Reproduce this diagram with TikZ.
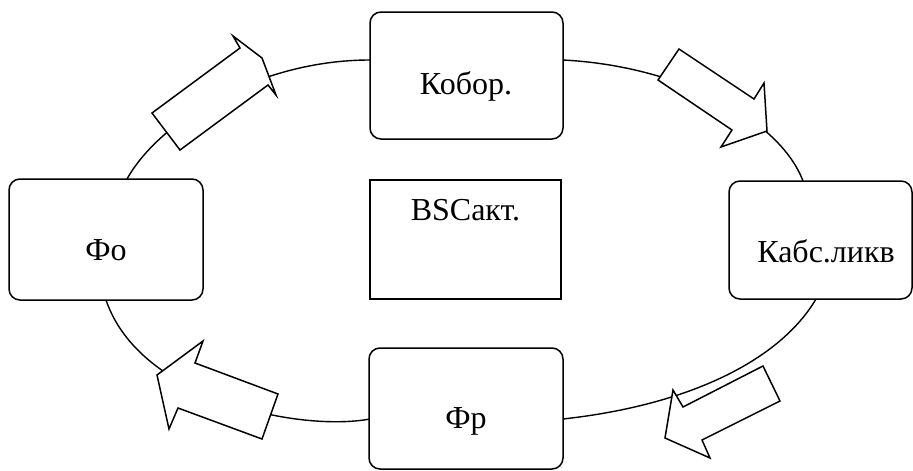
\documentclass[tikz,border=0pt]{standalone}
\usepackage{fontspec}
\setmainfont{Liberation Serif}
\begin{document}
\begin{tikzpicture}[x=1pt,y=-1pt,
  box/.style={draw, line width=1.5pt, rounded corners=11pt, fill=white, inner sep=0pt},
  sqbox/.style={draw, line width=1.5pt, fill=white, inner sep=0pt},
  lbl/.style={anchor=base, inner sep=0pt, font=\fontsize{32}{38}\selectfont},
  ring/.style={line width=1.4pt},
  blockarrow/.style={draw, line width=1.5pt, fill=white, line join=miter}]
\useasboundingbox (0,0) rectangle (913,471);

% ring ends (on the box borders)
\coordinate (koborW) at (370,60);
\coordinate (koborE) at (563,60);
\coordinate (foN) at (127,179);
\coordinate (foS) at (106,300);
\coordinate (kabsN) at (803,181);
\coordinate (kabsS) at (816,299);
\coordinate (frW) at (370,419);
\coordinate (frE) at (563,419);

% ring segments between the boxes
\draw[ring] (koborW) .. controls (260,60) and (160,120) .. (foN);
\draw[ring] (koborE) .. controls (680,66) and (780,120) .. (kabsN);
\draw[ring] (kabsS) .. controls (780,360) and (690,405) .. (frE);
\draw[ring] (frW) .. controls (300,432) and (140,400) .. (foS);

% boxes (named)
\node[box, minimum width=193pt, minimum height=127pt] (kobor) at (466.5,75.5) {};
\node[sqbox, minimum width=191pt, minimum height=119pt] (bsc) at (465.5,239.5) {};
\node[box, minimum width=194pt, minimum height=121pt] (fo) at (106,239.5) {};
\node[box, minimum width=183pt, minimum height=118pt] (kabs) at (820.5,240) {};
\node[box, minimum width=194pt, minimum height=121pt] (fr) at (466,408.5) {};

% block arrows
\draw[blockarrow] (152,113) -- (240,48) -- (233,36) -- (262,58) -- (276,95) -- (268,85) -- (180,150) -- cycle;
\draw[blockarrow] (679,49) -- (658,80) -- (732,130) -- (721,147) -- (767,131) -- (764,83) -- (754,99) -- cycle;
\draw[blockarrow] (763,366) -- (683,407) -- (673,390) -- (665,438) -- (710,458) -- (702,440) -- (780,401) -- cycle;
\draw[blockarrow] (203,341) -- (157,375) -- (169,429) -- (178,408) -- (262,439) -- (278,394) -- (195,363) -- cycle;

% labels
\node[lbl] (tkobor) at (466,94) {Кобор.};
\node[lbl] (tbsc) at (465.5,220) {BSCакт.};
\node[lbl] (tfo) at (106,260) {Фо};
\node[lbl] (tkabs) at (826,262) {Кабс.ликв};
\node[lbl] (tfr) at (466,428) {Фр};
\end{tikzpicture}
\end{document}
